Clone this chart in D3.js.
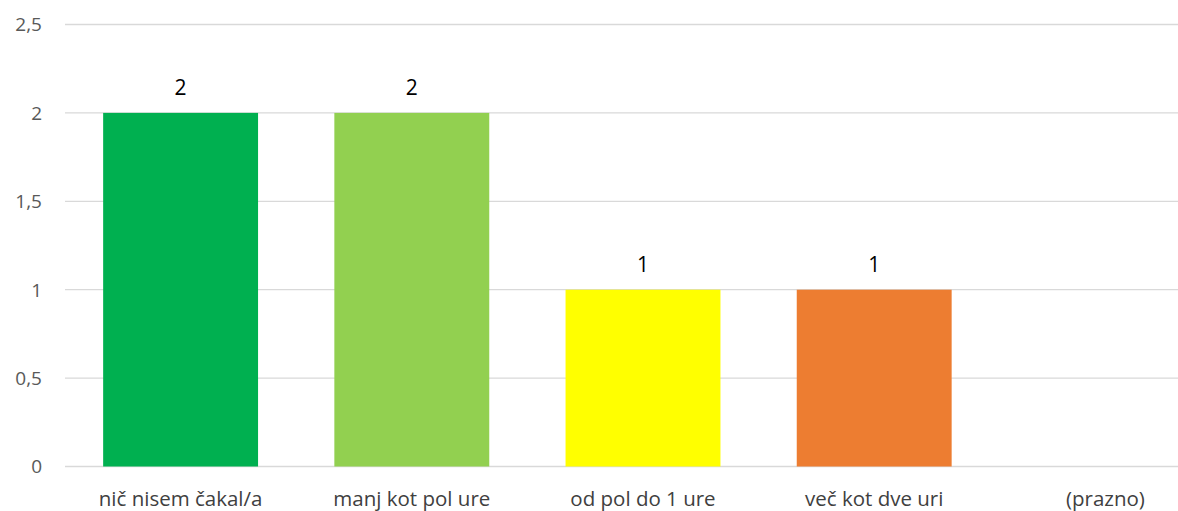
<!DOCTYPE html>
<html>
<head>
<meta charset="utf-8">
<script src="https://cdn.jsdelivr.net/npm/d3@7"></script>
<style>
  body { margin: 0; background: #fff; }
  text { font-family: "Open Sans", sans-serif; }
</style>
</head>
<body>
<svg id="chart" width="1178" height="511"></svg>
<script>
// data
var categories = ["nič nisem čakal/a", "manj kot pol ure", "od pol do 1 ure", "več kot dve uri", "(prazno)"];
var values = [2, 2, 1, 1, null];
var barColors = ["#00B050", "#92D050", "#FFFF00", "#ED7D31", "#A5A5A5"];
var yTicks = [0, 0.5, 1, 1.5, 2, 2.5];

var svg = d3.select("#chart");

// plot area runs past the right edge of the picture
var x = d3.scaleBand()
  .domain(categories)
  .range([65, 1221])
  .paddingInner(0.33)
  .paddingOuter(0.165);

var y = d3.scaleLinear()
  .domain([0, 2.5])
  .range([466.5, 24.5]);

var fmt = function(d) { return String(d).replace(".", ","); };

// gridlines
svg.append("g")
  .selectAll("line")
  .data(yTicks)
  .enter()
  .append("line")
    .attr("x1", 65)
    .attr("x2", 1221)
    .attr("y1", function(d) { return y(d); })
    .attr("y2", function(d) { return y(d); })
    .attr("stroke", "#d9d9d9")
    .attr("stroke-width", 1.3);

// y labels
svg.append("g")
  .selectAll("text")
  .data(yTicks)
  .enter()
  .append("text")
    .attr("x", 42)
    .attr("y", function(d) { return y(d); })
    .attr("dy", "0.36em")
    .attr("text-anchor", "end")
    .attr("fill", "#595959")
    .style("font-size", "19px")
    .text(fmt);

var data = categories.map(function(c, i) { return {cat: c, value: values[i], color: barColors[i]}; });
var filled = data.filter(function(d) { return d.value != null; });

// bars
svg.append("g")
  .selectAll("rect")
  .data(filled)
  .enter()
  .append("rect")
    .attr("x", function(d) { return x(d.cat); })
    .attr("width", x.bandwidth())
    .attr("y", function(d) { return y(d.value); })
    .attr("height", function(d) { return y(0) - y(d.value); })
    .attr("fill", function(d) { return d.color; });

// value labels
svg.append("g")
  .selectAll("text")
  .data(filled)
  .enter()
  .append("text")
    .attr("x", function(d) { return x(d.cat) + x.bandwidth() / 2; })
    .attr("y", function(d) { return y(d.value) - 18; })
    .attr("text-anchor", "middle")
    .attr("fill", "#000")
    .style("font-size", "21px")
    .text(function(d) { return d.value; });

// category labels
svg.append("g")
  .selectAll("text")
  .data(categories)
  .enter()
  .append("text")
    .attr("x", function(d) { return x(d) + x.bandwidth() / 2; })
    .attr("y", 506)
    .attr("text-anchor", "middle")
    .attr("fill", "#404040")
    .style("font-size", "20.5px")
    .text(function(d) { return d; });
</script>
</body>
</html>
